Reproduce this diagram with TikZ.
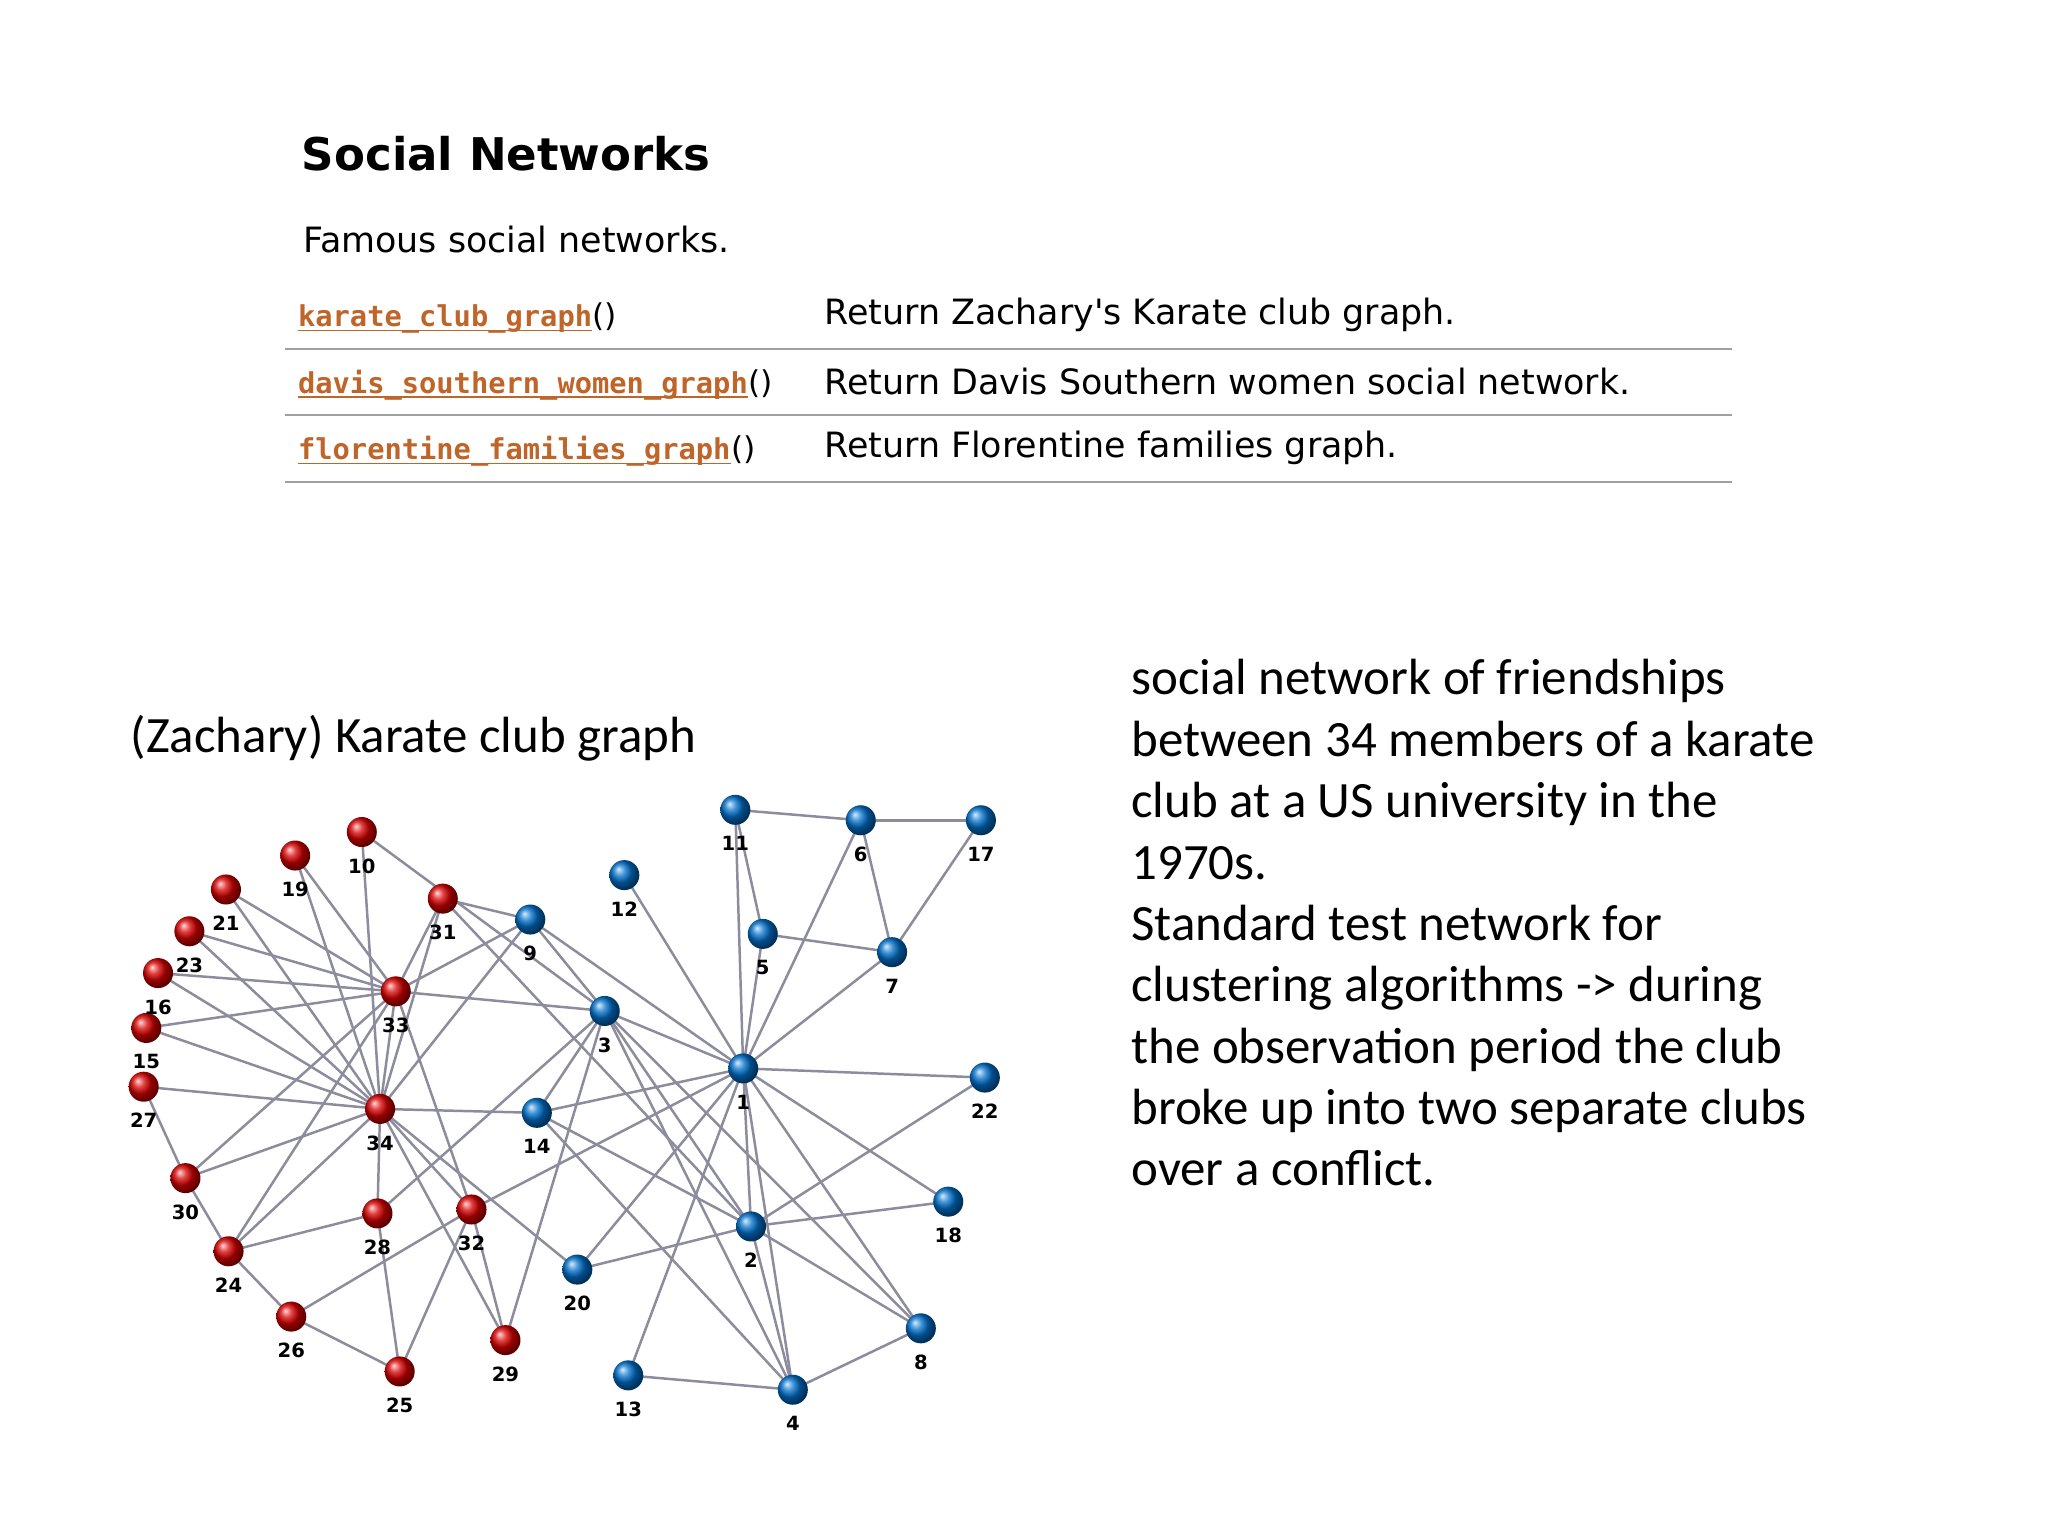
\documentclass[tikz,border=0pt]{standalone}
\usepackage{fontspec}
\setmainfont{Carlito}
\newfontfamily\dejavu{DejaVu Sans}
\newfontfamily\dejavumono{DejaVu Sans Mono}
\definecolor{linkc}{HTML}{C0652A}
\definecolor{edgec}{HTML}{8C8C9C}
\definecolor{rulec}{HTML}{A0A0A0}
\tikzset{
  rn/.style={circle,minimum size=23pt,inner sep=0pt,ball color=red!85!black},
  bn/.style={circle,minimum size=23pt,inner sep=0pt,ball color=blue!45!cyan!80!black},
  lbl/.style={font=\dejavu\bfseries\fontsize{15}{17}\selectfont,inner sep=0pt},
  ed/.style={draw=edgec,line width=1.9pt},
  body/.style={font=\fontsize{39}{47}\selectfont,anchor=base west,inner sep=0pt,align=left},
  web/.style={font=\dejavu\fontsize{26.7}{32}\selectfont,anchor=west,inner sep=0pt},
  lnk/.style={font=\dejavumono\bfseries\fontsize{22}{26}\selectfont,text=linkc,anchor=base west,inner sep=0pt},
  par/.style={font=\dejavu\fontsize{24}{28}\selectfont,anchor=base west,inner sep=0pt},
  uline/.style={draw=linkc,line width=1.2pt},
}
\begin{document}
\begin{tikzpicture}[x=1pt,y=-1pt]
\useasboundingbox[fill=white] (0,0) rectangle (1568,1176);
% header
\node[font=\dejavu\bfseries\fontsize{34.5}{40}\selectfont,anchor=west,inner sep=0pt] (title) at (231,118) {Social Networks};
\node[web] (sub) at (232,183) {Famous social networks.};
\node[lnk] (l1) at (228,250) {karate\_club\_graph};
\node[par] (p1) at (l1.base east) {()};
\node[lnk] (l2) at (228,301) {davis\_southern\_women\_graph};
\node[par] (p2) at (l2.base east) {()};
\node[lnk] (l3) at (228,352) {florentine\_families\_graph};
\node[par] (p3) at (l3.base east) {()};
\foreach \l in {l1,l2,l3}{\draw[uline] ([yshift=-3pt]\l.base west) -- ([yshift=-3pt]\l.base east);}
\node[web] (d1) at (631,241) {Return Zachary's Karate club graph.};
\node[web] (d2) at (631,292) {Return Davis Southern women social network.};
\node[web] (d3) at (631,343) {Return Florentine families graph.};
\coordinate (r1a) at (218,267); \coordinate (r1b) at (1326,267);
\coordinate (r2a) at (218,318); \coordinate (r2b) at (1326,318);
\coordinate (r3a) at (218,369); \coordinate (r3b) at (1326,369);
\draw[rulec,line width=1.5pt] (r1a)--(r1b) (r2a)--(r2b) (r3a)--(r3b);
% captions
\node[body] (cap) at (100,576) {(Zachary) Karate club graph};
\node[body] (desc1) at (866,673) {social network of friendships\\between 34 members of a karate\\club at a US university in the\\1970s.};
\node[body] (desc2) at (866,908) {Standard test network for\\clustering algorithms -> during\\the observation period the club\\broke up into two separate clubs\\over a conflict.};
% nodes
\foreach \n/\x/\y/\s in {1/569/818/bn,2/575/939/bn,3/463/774/bn,4/607/1064/bn,5/584/715/bn,6/659/628/bn,7/683/729/bn,8/705/1017/bn,9/406/704/bn,10/277/637/rn,11/563/620/bn,12/478/670/bn,13/481/1053/bn,14/411/852/bn,15/112/787/rn,16/121/745/rn,17/751/628/bn,18/726/920/bn,19/226/655/rn,20/442/972/bn,21/173/681/rn,22/754/825/bn,23/145/713/rn,24/175/958/rn,25/306/1050/rn,26/223/1008/rn,27/110/832/rn,28/289/929/rn,29/387/1026/rn,30/142/902/rn,31/339/688/rn,32/361/926/rn,33/303/759/rn,34/291/849/rn}
  {\coordinate (c\n) at (\x,\y);}
\foreach \a/\b in {1/2,1/3,1/4,1/5,1/6,1/7,1/8,1/9,1/11,1/12,1/13,1/14,1/18,1/20,1/22,1/32,
 2/3,2/4,2/8,2/14,2/18,2/20,2/22,2/31,3/4,3/8,3/9,3/10,3/14,3/28,3/29,3/33,4/8,4/13,4/14,
 5/7,5/11,6/7,6/11,6/17,7/17,9/31,9/33,9/34,10/34,14/34,15/33,15/34,16/33,16/34,19/33,19/34,
 20/34,21/33,21/34,23/33,23/34,24/26,24/28,24/30,24/33,24/34,25/26,25/28,25/32,26/32,27/30,27/34,
 28/34,29/32,29/34,30/33,30/34,31/33,31/34,32/33,32/34,33/34}
  {\draw[ed] (c\a) -- (c\b);}
\foreach \n/\x/\y/\s in {1/569/818/bn,2/575/939/bn,3/463/774/bn,4/607/1064/bn,5/584/715/bn,6/659/628/bn,7/683/729/bn,8/705/1017/bn,9/406/704/bn,10/277/637/rn,11/563/620/bn,12/478/670/bn,13/481/1053/bn,14/411/852/bn,15/112/787/rn,16/121/745/rn,17/751/628/bn,18/726/920/bn,19/226/655/rn,20/442/972/bn,21/173/681/rn,22/754/825/bn,23/145/713/rn,24/175/958/rn,25/306/1050/rn,26/223/1008/rn,27/110/832/rn,28/289/929/rn,29/387/1026/rn,30/142/902/rn,31/339/688/rn,32/361/926/rn,33/303/759/rn,34/291/849/rn}
  {\node[\s] (n\n) at (c\n) {};
   \node[lbl] (t\n) at (\x,\y+26) {\n};}
\end{tikzpicture}
\end{document}
